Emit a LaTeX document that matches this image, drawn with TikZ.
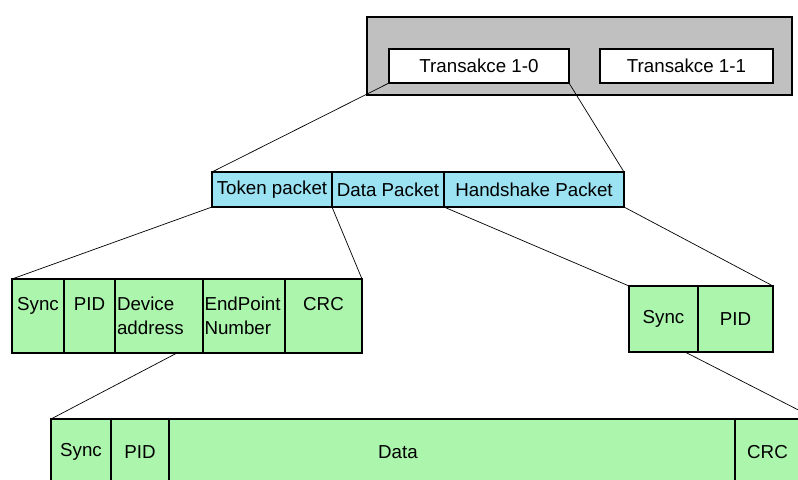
\documentclass[tikz,border=0pt]{standalone}
\usepackage{fontspec}
\setmainfont{Liberation Sans}
\usetikzlibrary{positioning}

\newlength\px
\setlength\px{0.03cm}
\definecolor{fieldgreen}{RGB}{172,245,172}
\definecolor{packetblue}{RGB}{155,226,242}
\definecolor{boxgray}{RGB}{192,192,192}

\begin{document}
\begin{tikzpicture}[x=\px,y=-\px,
    field/.style={draw,line width=1.1pt,outer sep=0pt,inner sep=1pt,
      font=\fontsize{16}{20}\selectfont},
    green/.style={field,fill=fieldgreen},
    blue/.style={field,fill=packetblue,minimum height=35\px},
    trbox/.style={field,fill=white,minimum height=34\px},
    raised/.style={text height=12pt,text depth=21pt},
    link/.style={line width=0.6pt}]
    \useasboundingbox (0,0) rectangle (798,480);
    \clip (0,0) rectangle (798,480);

    % transactions
    \node[field,fill=boxgray,line width=1.4pt,minimum width=425\px,minimum height=78\px,anchor=north west] (trans) at (367,17) {};
    \node[trbox,minimum width=180\px,anchor=north west] (t10) at (389,49) {Transakce 1-0};
    \node[trbox,minimum width=173\px] (t11) [right=31\px of t10] {Transakce 1-1};

    % packets
    \node[blue,minimum width=120\px,anchor=north west] (tok) at (212,172) {Token packet};
    \node[blue,minimum width=112\px] (data) [right=0pt of tok] {Data Packet};
    \node[blue,minimum width=180\px] (hand) [right=0pt of data] {Handshake Packet};

    % token packet fields
    \node[green,raised,minimum width=52\px,minimum height=74\px,anchor=north west] (sync1) at (12,279) {Sync};
    \node[green,raised,minimum width=51\px,minimum height=74\px] (pid1) [right=0pt of sync1] {PID};
    \node[green,minimum width=88\px,minimum height=74\px,text width=84\px,align=left] (dev) [right=0pt of pid1] {Device\\address};
    \node[green,minimum width=82\px,minimum height=74\px,text width=79\px,align=left] (endp) [right=0pt of dev] {EndPoint\\Number};
    \node[green,raised,minimum width=77\px,minimum height=74\px] (crc1) [right=0pt of endp] {CRC};

    % handshake packet fields
    \node[green,minimum width=69\px,minimum height=66\px,anchor=north west] (sync2) at (629,286) {Sync};
    \node[green,minimum width=75\px,minimum height=66\px] (pid2) [right=0pt of sync2] {PID};

    % data packet fields
    \node[green,minimum width=60\px,minimum height=66\px,anchor=north west] (sync3) at (51,419) {Sync};
    \node[green,minimum width=58\px,minimum height=66\px] (pid3) [right=0pt of sync3] {PID};
    \node[green,minimum width=566\px,minimum height=66\px] (data3) [right=0pt of pid3] {Data\hspace*{108\px}};
    \node[green,minimum width=81\px,minimum height=66\px] (crc3) [right=0pt of data3] {CRC\hspace*{16\px}};

    \draw[link] (t10.south west) -- (tok.north west);
    \draw[link] (t10.south east) -- (hand.north east);
    \draw[link] (tok.south west) -- (sync1.north west);
    \draw[link] (tok.south east) -- (crc1.north east);
    \draw[link] (data.south east) -- (sync2.north west);
    \draw[link] (hand.south east) -- (pid2.north east);
    \draw[link] ([xshift=-26\px]dev.south east) -- (sync3.north west);
    \draw[link] ([xshift=-13\px]sync2.south east) -- (crc3.north east);
\end{tikzpicture}
\end{document}
